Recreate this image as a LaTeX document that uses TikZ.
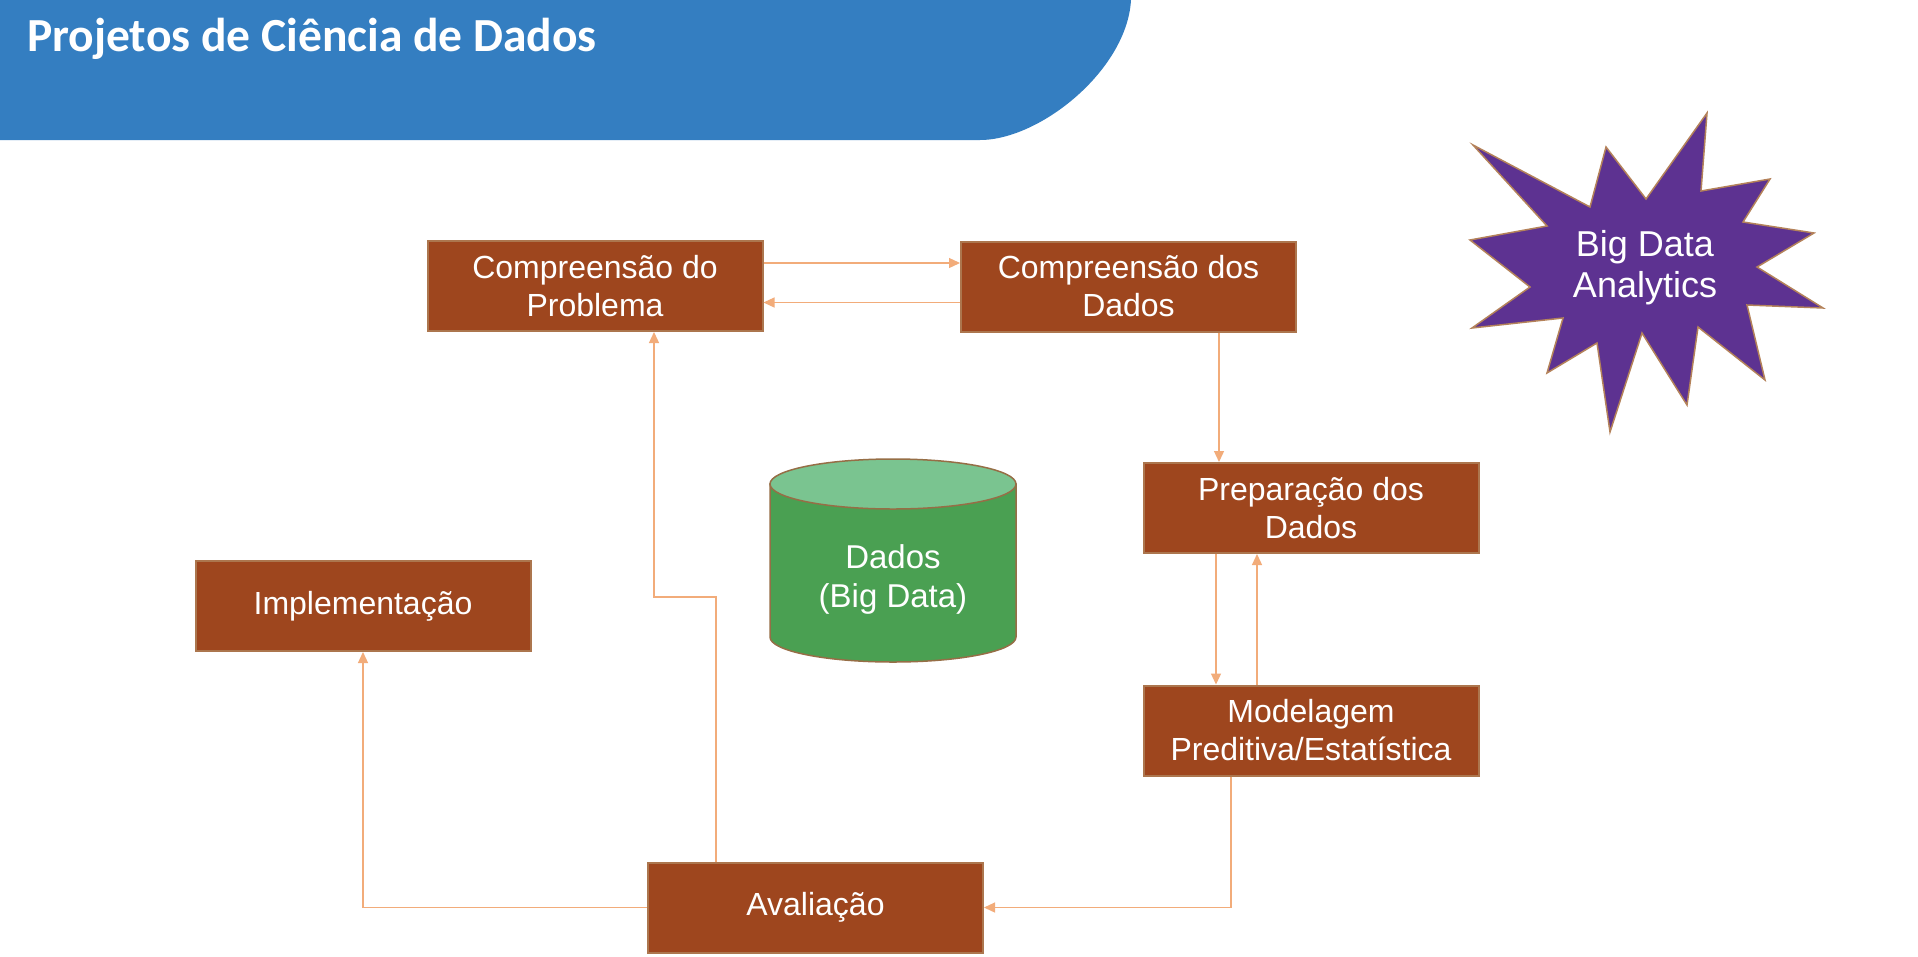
\documentclass[tikz,border=0pt]{standalone}
\usepackage{fontspec}
\setmainfont{Liberation Sans}
\newfontfamily\titlefont{Carlito}
\usetikzlibrary{arrows.meta}
\definecolor{hdrblue}{RGB}{52,126,193}
\definecolor{boxfill}{RGB}{158,70,30}
\definecolor{boxline}{RGB}{172,118,78}
\definecolor{arrowc}{RGB}{242,172,122}
\definecolor{cylside}{RGB}{74,160,82}
\definecolor{cyltop}{RGB}{122,196,144}
\definecolor{cylline}{RGB}{150,110,70}
\definecolor{starfill}{RGB}{93,50,145}
\definecolor{starline}{RGB}{180,130,90}
\begin{document}
\begin{tikzpicture}[x=1pt,y=-1pt,
  procbox/.style={draw=boxline, line width=2pt, fill=boxfill, text=white,
    minimum width=335pt, minimum height=90pt, inner sep=0pt, align=center,
    font=\fontsize{32}{38}\selectfont},
  flow/.style={draw=arrowc, line width=1.3pt, -{Triangle[length=11pt,width=10pt]}},
  lbl/.style={text=white, align=center, inner sep=0pt}]
\useasboundingbox (0,0) rectangle (1918,956);
\fill[white] (0,0) rectangle (1918,956);
% header
\fill[hdrblue] (0,0) -- (1131,0) .. controls (1127,70) and (1040,140) .. (980,140) -- (0,140) -- cycle;
\node[anchor=base west, text=white, inner sep=0pt,
  font=\titlefont\bfseries\fontsize{47.5}{56}\selectfont] (title) at (27,51) {Projetos de Ciência de Dados};
% boxes
\node[procbox] (cp) at (595,286) {Compreensão do\\Problema};
\node[procbox] (cd) at (1128.5,286.5) {Compreensão dos\\Dados};
\node[procbox] (prep) at (1311,508) {Preparação dos\\Dados};
\node[procbox] (mod) at (1311,730.5) {Modelagem\\Preditiva/Estatística};
\node[procbox] (impl) at (363,606) {Implementação};
\node[procbox] (aval) at (815.5,907.5) {Avaliação};
% connectors
\draw[flow] ([yshift=23pt]cp.east) -- ([yshift=23pt]cp.east -| cd.west);
\draw[flow] ([yshift=-16pt]cd.west) -- ([yshift=-16pt]cd.west -| cp.east);
\draw[flow] ([xshift=90.5pt]cd.south) -- ([xshift=90.5pt]cd.south |- prep.north);
\draw[flow] ([xshift=-95pt]prep.south) -- ([xshift=-95pt]prep.south |- mod.north);
\draw[flow] ([xshift=-54pt]mod.north) -- ([xshift=-54pt]mod.north |- prep.south);
\draw[flow] ([xshift=-80pt]mod.south) |- (aval.east);
\coordinate (bend) at (654,597);
\draw[flow] ([xshift=-99.5pt]aval.north) |- (bend) -- ([xshift=59pt]cp.south);
\draw[flow] (aval.west) -| (impl.south);
% cylinder
\filldraw[fill=cylside, draw=cylline, line width=1.5pt] (770,484) -- (770,637)
  arc[start angle=180, end angle=0, x radius=123, y radius=25] -- (1016,484) -- cycle;
\filldraw[fill=cyltop, draw=cylline, line width=1.5pt] (893,484) ellipse [x radius=123, y radius=25];
\node[lbl, font=\fontsize{33}{39}\selectfont] (dados) at (893,579) {Dados\\(Big Data)};
% star
\filldraw[fill=starfill, draw=starline, line width=1.5pt]
  (1473,145) -- (1590,207) -- (1606,147) -- (1646,199) -- (1707,113) -- (1701,191)
  -- (1770,179) -- (1743,222) -- (1814,233) -- (1757,267) -- (1823,308) -- (1747,305)
  -- (1765,380) -- (1698,327) -- (1687,405) -- (1642,333) -- (1610,432) -- (1597,343)
  -- (1547,373) -- (1563,318) -- (1472,328) -- (1530,287) -- (1470,240) -- (1547,226) -- cycle;
\node[lbl, font=\fontsize{36}{41}\selectfont] (bda) at (1645,268) {Big Data\\Analytics};
\end{tikzpicture}
\end{document}
